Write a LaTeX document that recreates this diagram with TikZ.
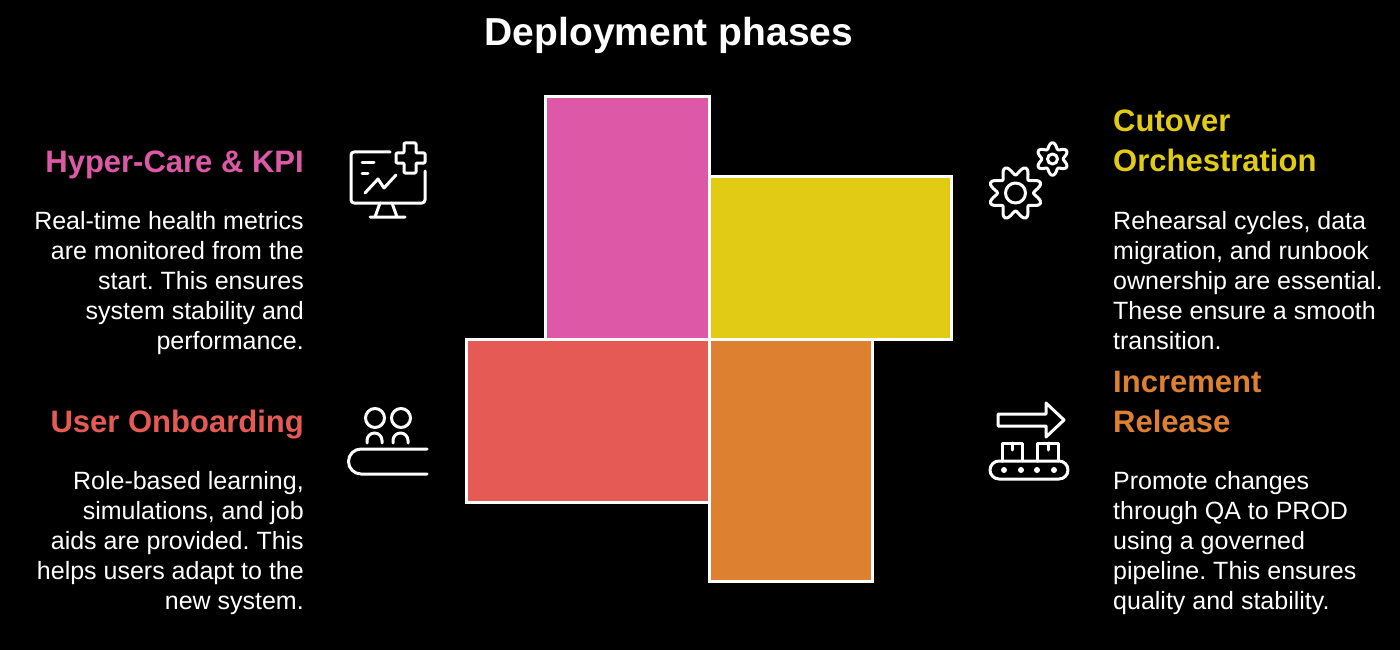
\documentclass[tikz,border=0pt]{standalone}
\usepackage{fontspec}
\setmainfont{Liberation Sans}
\frenchspacing
\definecolor{cpink}{HTML}{DE58A8}
\definecolor{cyellow}{HTML}{E1CB14}
\definecolor{cred}{HTML}{E55A55}
\definecolor{corange}{HTML}{DD8030}
\tikzset{
  block/.style={draw=white,line width=3pt,rectangle,inner sep=0pt,outer sep=0pt,anchor=north west},
  heading/.style={font=\fontsize{31}{40}\selectfont\bfseries,inner sep=0pt},
  body/.style={font=\fontsize{25}{30}\selectfont,text=white,inner sep=0pt},
  title/.style={font=\fontsize{39}{44}\selectfont\bfseries,text=white,inner sep=0pt},
  icon/.style={draw=white,line width=3pt,line cap=round,line join=round,fill=none}
}
\begin{document}
\begin{tikzpicture}[x=1pt,y=-1pt]
\useasboundingbox[fill=black] (0,0) rectangle (1400,650);
\node[title] (ttl) at (669,35) {Deployment phases};
% blocks
\node[block,fill=cpink,minimum width=164pt,minimum height=242pt] (pink) at (545,97) {};
\node[block,fill=cyellow,minimum width=242pt,minimum height=163pt] (yellow) at (709,176) {};
\node[block,fill=cred,minimum width=243pt,minimum height=163pt] (red) at (466,339) {};
\node[block,fill=corange,minimum width=163pt,minimum height=242pt] (orange) at (709,339) {};
% left text
\node[heading,text=cpink,anchor=east] (h1) at (304,165) {Hyper-Care \& KPI};
\node[body,align=right,anchor=north east] (b1) at (304,211) {Real-time health metrics\\are monitored from the\\start. This ensures\\system stability and\\performance.};
\node[heading,text=cred,anchor=east] (h2) at (304,425) {User Onboarding};
\node[body,align=right,anchor=north east] (b2) at (304,471) {Role-based learning,\\simulations, and job\\aids are provided. This\\helps users adapt to the\\new system.};
% right text
\node[heading,text=cyellow,align=left,anchor=north west] (h3) at (1113,110) {Cutover\\Orchestration};
\node[body,align=left,anchor=north west] (b3) at (1113,211) {Rehearsal cycles, data\\migration, and runbook\\ownership are essential.\\These ensure a smooth\\transition.};
\node[heading,text=corange,align=left,anchor=north west] (h4) at (1113,371) {Increment\\Release};
\node[body,align=left,anchor=north west] (b4) at (1113,471) {Promote changes\\through QA to PROD\\using a governed\\pipeline. This ensures\\quality and stability.};
% monitor icon
\begin{scope}[shift={(330,130)}]
\draw[icon,rounded corners=3pt] (60,22) -- (21,22) -- (21,73) -- (95,73) -- (95,41);
\draw[icon,rounded corners=1pt] (74,13) -- (86,13) -- (86,23) -- (95,23) -- (95,33) -- (86,33) -- (86,43) -- (74,43) -- (74,33) -- (66,33) -- (66,23) -- (74,23) -- cycle;
\draw[icon] (32,32) -- (44,32) (32,43) -- (38,43);
\draw[icon] (35,63) -- (48,49) -- (54,58) -- (66,45);
\draw[icon] (50,73) -- (45,87) (62,73) -- (67,87) (40,87) -- (75,87);
\end{scope}
% people icon
\begin{scope}[shift={(330,390)}]
\draw[icon] (45,28) circle (9.5) (71,28) circle (9.5);
\draw[icon] (37,53) -- (37,50.5) arc[start angle=180,end angle=360,radius=7.5] -- (52,53);
\draw[icon] (63,53) -- (63,50.5) arc[start angle=180,end angle=360,radius=7.5] -- (78,53);
\draw[icon] (97,59) -- (31,59) arc[start angle=-90,end angle=-270,radius=12.5] -- (97,84);
\end{scope}
% gears
\begin{scope}[shift={(970,130)}]
\draw[icon,smooth,samples=97,domain=0:360] plot ({45.5+(22.5+4.5*cos(8*\x+180))*cos(\x)},{63+(22.5+4.5*cos(8*\x+180))*sin(\x)}) -- cycle;
\draw[icon] (45.5,63) circle (10);
\draw[icon,smooth,samples=73,domain=0:360] plot ({82.5+(13.5+2.8*cos(6*\x+180))*cos(\x)},{29+(13.5+2.8*cos(6*\x+180))*sin(\x)}) -- cycle;
\draw[icon] (82.5,29) circle (5);
\end{scope}
% conveyor icon
\begin{scope}[shift={(970,390)}]
\draw[icon] (28,24) -- (76,24) -- (76,13) -- (94,30) -- (76,47) -- (76,36) -- (28,36) -- cycle;
\draw[icon] (32,71) -- (32,53) -- (52,53) -- (52,71);
\draw[icon] (67,71) -- (67,53) -- (88,53) -- (88,71);
\draw[icon] (42,53) -- (42,60) (78,53) -- (78,60);
\draw[icon,rounded corners=9pt] (20,71) rectangle (98,89);
\fill[white] (34,80) circle (3) (51,80) circle (3) (67,80) circle (3) (84,80) circle (3);
\end{scope}
\end{tikzpicture}
\end{document}
